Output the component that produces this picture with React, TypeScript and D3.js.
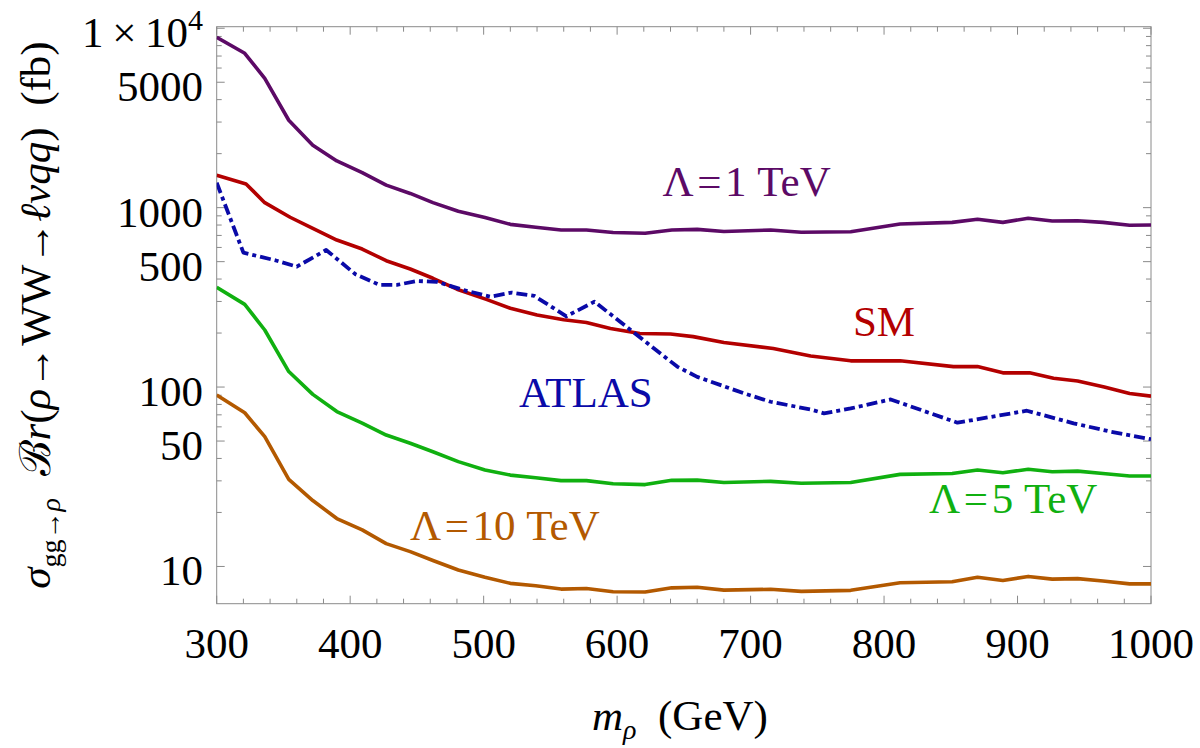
import React from "react";
import * as d3 from "d3";

// ---- data ----
const modelMass = [300, 321, 336, 354, 372, 390, 409, 427, 445, 462, 481, 501, 520, 539, 558, 577, 597, 621, 641, 660, 680, 715, 738, 775, 812, 851, 870, 889, 908, 926, 945, 964, 984, 1000];
const lambda1 = [8900, 7250, 5250, 3070, 2230, 1820, 1566, 1335, 1200, 1066, 955, 882, 807, 778, 751, 751, 727, 720, 751, 757, 736, 751, 729, 734, 811, 828, 861, 828, 873, 843, 846, 828, 798, 800];
const lambda5 = [360, 289, 208, 122, 91, 73, 63, 54, 48.6, 43.6, 38.4, 34.5, 32.3, 31.2, 30.1, 30.1, 28.9, 28.6, 30.2, 30.3, 29.4, 29.8, 29.1, 29.4, 32.6, 33.0, 34.5, 33.3, 34.8, 33.7, 34.0, 33.0, 31.9, 31.9];
const lambda10 = [90.3, 71.9, 52.9, 30.6, 23.3, 18.5, 16.0, 13.4, 12.1, 10.8, 9.55, 8.7, 8.05, 7.8, 7.48, 7.53, 7.23, 7.2, 7.6, 7.66, 7.38, 7.46, 7.26, 7.36, 8.12, 8.22, 8.7, 8.35, 8.8, 8.5, 8.55, 8.3, 8.0, 8.0];

const smMass = [300, 322, 336, 355, 372, 390, 409, 427, 445, 462, 480, 502, 520, 540, 560, 577, 595, 617, 640, 657, 680, 717, 745, 775, 812, 852, 870, 889, 909, 927, 945, 965, 984, 1000];
const smXsec = [1514, 1355, 1066, 884, 767, 660, 588, 506, 455, 404, 351, 308, 275, 252, 237, 229, 212, 199, 197.5, 191, 177, 164, 149, 140, 140, 130, 130, 120, 120, 112, 108, 100, 92, 89];

const atlasMass = [300, 320, 345, 360, 382, 404, 422, 435, 450, 465, 485, 505, 521, 538, 562, 583, 612, 645, 660, 695, 715, 745, 755, 775, 805, 855, 907, 942, 970, 1000];
const atlasLimit = [1377, 561, 506, 469, 581, 425, 371, 371, 390, 386, 347, 319, 336, 322, 248, 299, 203, 130, 114, 92.3, 82.8, 75, 71.3, 76, 85.3, 63.3, 73.8, 62.8, 56.4, 51.2];

const xTicks = [300, 400, 500, 600, 700, 800, 900, 1000];
const xMinorTicks = [320, 340, 360, 380, 420, 440, 460, 480, 520, 540, 560, 580, 620, 640, 660, 680, 720, 740, 760, 780, 820, 840, 860, 880, 920, 940, 960, 980];
const yMajorTicks = [10, 50, 100, 500, 1000, 5000, 10000];
const yTickLabels = ["10", "50", "100", "500", "1000", "5000", "1\u2009×\u200910"];
const yMinorTicks = [20, 30, 40, 60, 70, 80, 90, 200, 300, 400, 600, 700, 800, 900, 2000, 3000, 4000, 6000, 7000, 8000, 9000];

const curveLabels = [
  { name: "Λ1", m: 634, v: 1161, color: "#5c0a66" },
  { name: "SM", m: 776.7, v: 192.5, color: "#b30000" },
  { name: "ATLAS", m: 526.5, v: 77.4, color: "#0a0aa8" },
  { name: "Λ5", m: 833.7, v: 19.86, color: "#10b010" },
  { name: "Λ10", m: 444.8, v: 14.04, color: "#b35900" },
];

const W = 1200;
const H = 748;
const L = 216.7, R = 1151, T = 26.7, B = 603.7;
const FONT = "'Liberation Serif', 'Times New Roman', 'DejaVu Serif', serif";
const ts = { fontFamily: FONT };

export default function App() {
  const x = d3.scaleLinear().domain([300, 1000]).range([L, R]);
  const y = d3.scaleLog().domain([Math.pow(10, 0.7924), Math.pow(10, 4.0086)]).range([B, T]);
  const line = d3.line<[number, number]>().x((d) => x(d[0])).y((d) => y(d[1]));
  const mk = (ms: number[], vs: number[]) => line(ms.map((m, i) => [m, vs[i]] as [number, number])) || "";

  const series = [
    { d: mk(modelMass, lambda1), color: "#5c0a66", dash: undefined, w: 3.6 },
    { d: mk(smMass, smXsec), color: "#b30000", dash: undefined, w: 3.6 },
    { d: mk(modelMass, lambda5), color: "#10b010", dash: undefined, w: 3.6 },
    { d: mk(modelMass, lambda10), color: "#b35900", dash: undefined, w: 3.6 },
    { d: mk(atlasMass, atlasLimit), color: "#0a0aa8", dash: "11,4,4,4", w: 3.8 },
  ];

  const axisColor = "#8a8a8a";
  const labelText = (name: string) => {
    if (name === "Λ1") return "Λ\u200A=\u200A1 TeV";
    if (name === "Λ5") return "Λ\u200A=\u200A5 TeV";
    if (name === "Λ10") return "Λ\u200A=\u200A10 TeV";
    return name;
  };

  return (
    <svg width={W} height={H} style={{ position: "absolute", left: 0, top: 0, background: "#fff", fontFamily: FONT }}>
      <rect x={0} y={0} width={W} height={H} fill="#fff" />
      <defs>
        <clipPath id="clip">
          <rect x={L} y={T - 2} width={R - L} height={B - T + 4} />
        </clipPath>
      </defs>
      {/* frame */}
      <rect x={L} y={T} width={R - L} height={B - T} fill="none" stroke={axisColor} strokeWidth={1} />
      {/* x ticks (bottom & top) */}
      {xTicks.map((t) => (
        <g key={"xt" + t}>
          <line x1={x(t)} x2={x(t)} y1={B} y2={B - 8} stroke={axisColor} />
          <line x1={x(t)} x2={x(t)} y1={T} y2={T + 8} stroke={axisColor} />
          <text x={x(t)} y={658} fontSize={43} textAnchor="middle" fill="#000" style={ts}>{t}</text>
        </g>
      ))}
      {xMinorTicks.map((t) => (
        <g key={"xm" + t}>
          <line x1={x(t)} x2={x(t)} y1={B} y2={B - 5} stroke={axisColor} />
          <line x1={x(t)} x2={x(t)} y1={T} y2={T + 5} stroke={axisColor} />
        </g>
      ))}
      {/* y ticks (left & right) */}
      {yMajorTicks.map((t, i) => (
        <g key={"yt" + t}>
          <line x1={L} x2={L + 8} y1={y(t)} y2={y(t)} stroke={axisColor} />
          <line x1={R} x2={R - 8} y1={y(t)} y2={y(t)} stroke={axisColor} />
          {t === 10000 ? (
            <text x={203} y={y(t) + 19} fontSize={43} textAnchor="end" fill="#000" style={ts}>
              {yTickLabels[i]}
              <tspan fontSize={30} dy={-17}>4</tspan>
            </text>
          ) : (
            <text x={203} y={y(t) + 19} fontSize={43} textAnchor="end" fill="#000" style={ts}>{yTickLabels[i]}</text>
          )}
        </g>
      ))}
      {yMinorTicks.map((t) => (
        <g key={"ym" + t}>
          <line x1={L} x2={L + 5} y1={y(t)} y2={y(t)} stroke={axisColor} />
          <line x1={R} x2={R - 5} y1={y(t)} y2={y(t)} stroke={axisColor} />
        </g>
      ))}
      {/* curves */}
      <g clipPath="url(#clip)">
        {series.map((s, i) => (
          <path key={i} d={s.d} fill="none" stroke={s.color} strokeWidth={s.w} strokeDasharray={s.dash} strokeLinejoin="round" />
        ))}
      </g>
      {/* curve labels */}
      {curveLabels.map((c) => (
        <text key={c.name} x={x(c.m)} y={y(c.v)} fontSize={43} fill={c.color} style={ts}>{labelText(c.name)}</text>
      ))}
      {/* x axis label */}
      <text x={592} y={730} fontSize={43} fill="#000" style={ts}>
        <tspan fontStyle="italic">m</tspan>
        <tspan fontSize={28} fontStyle="italic" dy={9}>ρ</tspan>
        <tspan dy={-9}>{"\u2002(GeV)"}</tspan>
      </text>
      {/* y axis label */}
      <text transform="translate(50,315) rotate(-90)" textAnchor="middle" fontSize={43} fill="#000" style={ts}>
        <tspan fontStyle="italic">σ</tspan>
        <tspan fontSize={28} dy={10}>gg→</tspan>
        <tspan fontSize={28} fontStyle="italic">ρ</tspan>
        <tspan dy={-10}>{"\u2002"}</tspan>
        <tspan>ℬ</tspan>
        <tspan fontStyle="italic">r</tspan>
        <tspan>(</tspan>
        <tspan fontStyle="italic">ρ</tspan>
        <tspan>→WW→</tspan>
        <tspan fontStyle="italic">ℓνqq</tspan>
        <tspan>{")\u2002(fb)"}</tspan>
      </text>
    </svg>
  );
}
